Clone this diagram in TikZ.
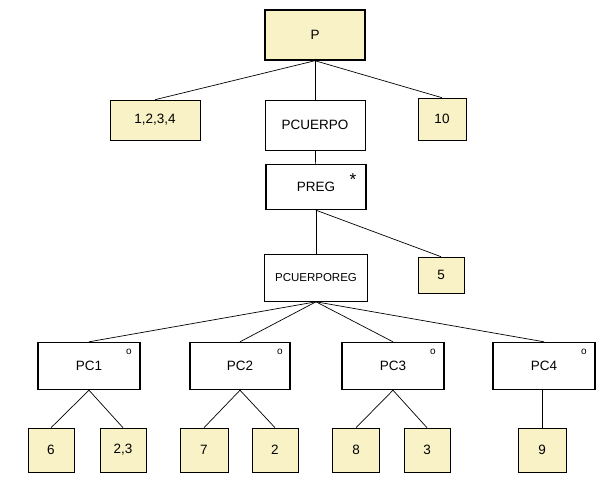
\documentclass[tikz,border=0pt]{standalone}
\usepackage{fontspec}
\setmainfont{Liberation Sans}
\definecolor{ylw}{HTML}{F8F2C6}
\begin{document}
\begin{tikzpicture}[x=1pt,y=-1pt,
  box/.style={draw,rectangle,inner sep=0pt,font=\fontsize{13.5}{14}\selectfont},
  leaf/.style={box,fill=ylw,line width=0.6pt},
  thin/.style={box,fill=white,line width=0.6pt},
  thick/.style={box,fill=white,line width=1.4pt},
  edge/.style={line width=0.7pt}]
\useasboundingbox (0,0) rectangle (616,480);
\newcommand\bx[6]{\node[#1,minimum width=#4pt,minimum height=#5pt] (#2) at (#3) {#6};}
\bx{thick,fill=ylw}{P}{315,35}{100}{50}{P}
\bx{leaf}{a}{155,120}{90}{40}{1,2,3,4}
\bx{thin}{pc}{315,125}{100}{50}{PCUERPO}
\bx{leaf}{ten}{442,119}{48}{42}{10}
\bx{thick}{preg}{316,187}{100}{45}{PREG}
\bx{thin}{pcr}{316,278}{103}{47}{\fontsize{11.5}{12}\selectfont PCUERPOREG}
\bx{leaf}{five}{441,275}{46}{36}{5}
\bx{thick}{c1}{89,366}{102}{47}{PC1}
\bx{thick}{c2}{240,366}{100}{47}{PC2}
\bx{thick}{c3}{393,366}{102}{47}{PC3}
\bx{thick}{c4}{544,366}{102}{47}{PC4}
\bx{leaf}{l1}{51,450}{46}{44}{6}
\bx{leaf}{l2}{123,450}{46}{44}{2,3}
\bx{leaf}{l3}{204,450}{48}{44}{7}
\bx{leaf}{l4}{275,450}{46}{44}{2}
\bx{leaf}{l5}{356,450}{47}{44}{8}
\bx{leaf}{l6}{427,450}{46}{44}{3}
\bx{leaf}{l7}{542,450}{48}{44}{9}
\node[font=\LARGE] (st) at (353,180) {*};
\foreach \c/\x in {c1/129,c2/280,c3/433,c4/584}
  \node[font=\normalsize] (o\c) at (\x,352) {o};
\foreach \t in {a,pc,ten} \draw[edge] (P.south) -- (\t.north);
\draw[edge] (pc) -- (preg);
\draw[edge] (preg.south) -- (pcr.north);
\draw[edge] (preg.south) -- (five.north);
\foreach \t in {c1,c2,c3,c4} \draw[edge] (pcr.south) -- (\t.north);
\draw[edge] (c1.south) -- (l1.north); \draw[edge] (c1.south) -- (l2.north);
\draw[edge] (c2.south) -- (l3.north); \draw[edge] (c2.south) -- (l4.north);
\draw[edge] (c3.south) -- (l5.north); \draw[edge] (c3.south) -- (l6.north);
\draw[edge] (l7.north) -- (l7.north |- c4.south);
\end{tikzpicture}
\end{document}
